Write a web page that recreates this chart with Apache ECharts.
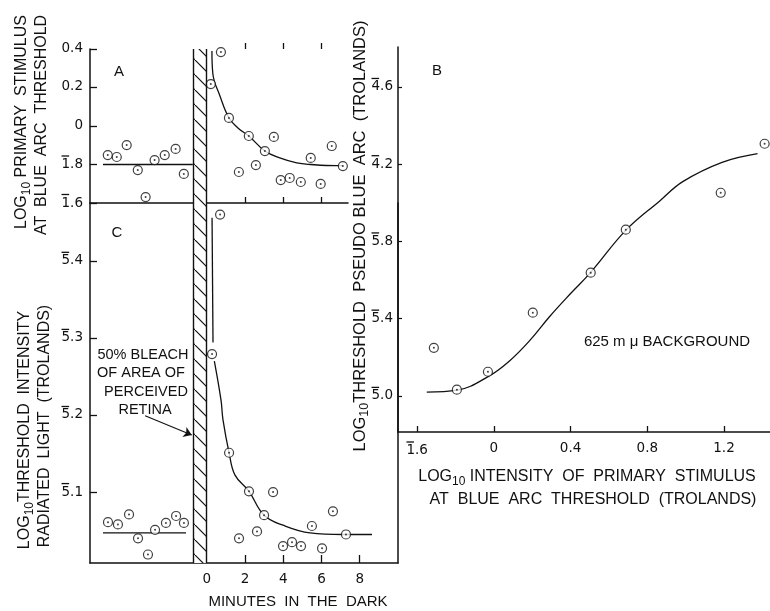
<!DOCTYPE html>
<html>
<head>
<meta charset="utf-8">
<script src="https://cdn.jsdelivr.net/npm/echarts@6/dist/echarts.min.js"></script>
<style>
  html, body { margin: 0; padding: 0; background: #fff; }
  #main { width: 770px; height: 611px; }
</style>
</head>
<body>
<div id="main"></div>
<script>
// panel A - log10 primary stimulus at blue arc threshold, vs minutes in the dark
const aBefore = [[-5.17,-0.151],[-4.70,-0.161],[-4.18,-0.099],[-3.60,-0.229],[-3.19,-0.369],
                 [-2.72,-0.177],[-2.19,-0.151],[-1.62,-0.119],[-1.19,-0.249]];
const aAfter = [[0.22,0.218],[0.75,0.384],[1.17,0.042],[1.69,-0.239],[2.21,-0.052],[2.58,-0.203],
                [3.05,-0.130],[3.52,-0.057],[3.88,-0.281],[4.35,-0.270],[4.93,-0.291],[5.45,-0.166],
                [5.97,-0.301],[6.55,-0.104],[7.13,-0.208]];
const aLevel = [[-5.42,-0.2],[-0.72,-0.2]];
const aCurve = [[0.28,0.39],[0.33,0.27],[0.70,0.156],[1.17,0.042],[1.64,-0.010],[2.21,-0.052],
                [3.05,-0.130],[3.83,-0.166],[4.72,-0.192],[5.45,-0.200],[6.81,-0.206],[7.13,-0.206]];

// panel C - log10 threshold intensity of radiated light
const cBefore = [[-5.16,-4.939],[-4.64,-4.942],[-4.06,-4.929],[-3.59,-4.960],[-3.07,-4.981],
                 [-2.70,-4.949],[-2.13,-4.940],[-1.60,-4.931],[-1.19,-4.940]];
const cAfter = [[0.70,-4.540],[0.28,-4.721],[1.17,-4.849],[1.69,-4.960],[2.21,-4.899],[2.63,-4.951],
                [3.00,-4.930],[3.47,-4.900],[3.99,-4.970],[4.46,-4.965],[4.93,-4.970],[5.50,-4.944],
                [6.03,-4.973],[6.60,-4.925],[7.28,-4.955]];
const cLevel = [[-5.42,-4.953],[-1.08,-4.953]];
const cDrop = [[0.28,-4.544],[0.33,-4.706]];
const cCurve = [[0.40,-4.730],[0.75,-4.781],[0.85,-4.806],[1.17,-4.849],[1.48,-4.878],[2.21,-4.899],
                [3.00,-4.930],[3.99,-4.943],[5.40,-4.953],[7.13,-4.955],[8.64,-4.955]];

// panel B - threshold pseudo blue arc vs primary stimulus, 625 mu background
const bPoints = [[-0.313,-4.751],[-0.193,-4.968],[-0.031,-4.875],[0.203,-4.569],[0.505,-4.362],
                 [0.688,-4.139],[1.183,-3.948],[1.412,-3.694]];
const bCurve = [[-0.35,-4.98],[-0.19,-4.97],[-0.03,-4.90],[0.08,-4.82],[0.19,-4.71],[0.29,-4.59],
                [0.40,-4.47],[0.505,-4.36],[0.69,-4.14],[0.865,-3.99],[0.985,-3.89],[1.19,-3.79],[1.375,-3.745]];

const bleach = [-0.7, 0];
const minuteLabels = [0, 2, 4, 6, 8];
const aTicks = [-0.4, -0.2, 0, 0.2, 0.4];
const cTicks = [-4.9, -4.8, -4.7, -4.6];
const bYTicks = [-5.0, -4.6, -4.2, -3.8, -3.4];
const bXTicks = [-0.4, 0, 0.4, 0.8, 1.2];

const ink = '#111';
const font = 'Liberation Sans';
const numFont = 'DejaVu Sans';
const numSize = 13.5;

// width of a digit and of ".d", so the bar over the characteristic lines up
const mc = document.createElement('canvas').getContext('2d');
mc.font = numSize + 'px "' + numFont + '"';
const digitW = mc.measureText('0').width;
const tailW = mc.measureText('.0').width;

// bar-notation log labels: -0.2 -> 1̄.8, -4.6 -> 5̄.4 (bar drawn as a rich token)
function logLabel(v) {
  v = Math.round(v * 10) / 10;
  if (v >= 0) return '{n|' + (v === 0 ? '0' : v.toFixed(1)) + '}';
  const c = Math.floor(v + 1e-9);
  const m = Math.round((v - c) * 10);
  return '{bar|}{gap|}\n{n|' + Math.abs(c) + '.' + m + '}';
}
const labelRich = {
  n: { fontFamily: numFont, fontSize: numSize, color: ink, lineHeight: 15 },
  bar: { width: digitW - 1, height: 1.3, lineHeight: 2, backgroundColor: ink },
  gap: { width: tailW + 1, height: 1.3, lineHeight: 2 }
};

const hatch = document.createElement('canvas');
hatch.width = 15; hatch.height = 15;
const hc = hatch.getContext('2d');
hc.fillStyle = '#fff'; hc.fillRect(0, 0, 15, 15);
hc.strokeStyle = ink; hc.lineWidth = 1.2;
hc.beginPath(); hc.moveTo(-3, -3); hc.lineTo(18, 18); hc.stroke();

const axisLine = { show: true, onZero: false, lineStyle: { color: ink, width: 1.5 } };
const tickLabel = { color: ink, fontFamily: numFont, fontSize: numSize };

function circles(data, xi) {
  return {
    type: 'scatter', xAxisIndex: xi, yAxisIndex: xi, data: data, symbol: 'circle', symbolSize: 9,
    itemStyle: { color: '#fff', borderColor: ink, borderWidth: 1.2 }, z: 4, silent: true
  };
}
function dots(data, xi) {
  return {
    type: 'scatter', xAxisIndex: xi, yAxisIndex: xi, data: data, symbolSize: 2,
    itemStyle: { color: ink }, z: 5, silent: true
  };
}
function line(data, xi, smooth) {
  return {
    type: 'line', xAxisIndex: xi, yAxisIndex: xi, data: data, showSymbol: false, smooth: smooth,
    lineStyle: { color: ink, width: 1.3 }, z: 3, silent: true
  };
}
function hatchBar(xi) {
  return {
    type: 'line', xAxisIndex: xi, yAxisIndex: xi, data: [], silent: true,
    markArea: { silent: true, itemStyle: { color: { image: hatch, repeat: 'repeat' }, borderWidth: 0 },
      data: [[{ xAxis: bleach[0] }, { xAxis: bleach[1] }]] },
    markLine: { silent: true, symbol: 'none', label: { show: false },
      lineStyle: { color: ink, width: 1.4, type: 'solid' },
      data: [{ xAxis: bleach[0] }, { xAxis: bleach[1] }] }
  };
}

function sub(x, y, rot, parts, size) {
  size = size || 16;
  return {
    type: 'text', x: x, y: y, rotation: rot, silent: true,
    style: {
      text: parts, fill: ink, font: size + 'px "' + font + '"',
      align: 'center', verticalAlign: 'middle', textAlign: 'center', textVerticalAlign: 'middle',
      rich: {
        t: { fontSize: size, fontFamily: font, lineHeight: size + 4, color: ink },
        s: { fontSize: size - 4, fontFamily: font, lineHeight: size + 5, verticalAlign: 'bottom', color: ink }
      }
    }
  };
}

const chart = echarts.init(document.getElementById('main'), null, { renderer: 'canvas' });

chart.setOption({
  backgroundColor: '#fff',
  animation: false,
  grid: [
    { left: 90, top: 49, width: 258, height: 154 },
    { left: 90, top: 203, width: 308, height: 360 },
    { left: 398, top: 47, right: 0, height: 385 }
  ],
  xAxis: [
    { gridIndex: 0, type: 'value', min: -6.1, max: 7.4, axisLine: axisLine, splitLine: { show: false },
      axisLabel: { show: false },
      axisTick: { show: true, inside: true, length: 6, customValues: [2, 4, 6], lineStyle: { color: ink, width: 1.3 } } },
    { gridIndex: 1, type: 'value', min: -6.1, max: 10, axisLine: axisLine, splitLine: { show: false },
      axisLabel: Object.assign({ margin: 9, customValues: minuteLabels }, tickLabel),
      axisTick: { show: true, inside: true, length: 8, customValues: [2, 4, 6, 8], lineStyle: { color: ink, width: 1.3 } } },
    { gridIndex: 2, type: 'value', min: -0.5, max: 1.44, axisLine: axisLine, splitLine: { show: false },
      axisLabel: Object.assign({ margin: 9, customValues: bXTicks, formatter: logLabel, rich: labelRich }, tickLabel),
      axisTick: { show: true, inside: true, length: 6, customValues: bXTicks, lineStyle: { color: ink, width: 1.3 } } },
    // lower half of the crossing ticks on A's baseline
    { gridIndex: 0, type: 'value', min: -6.1, max: 7.4, axisLine: { show: false, onZero: false }, splitLine: { show: false },
      axisLabel: { show: false },
      axisTick: { show: true, inside: false, length: 6, customValues: [2, 4, 6], lineStyle: { color: ink, width: 1.3 } } }
  ],
  yAxis: [
    { gridIndex: 0, type: 'value', min: -0.4, max: 0.4, interval: 0.2, axisLine: axisLine, splitLine: { show: false },
      axisLabel: Object.assign({ margin: 7, formatter: logLabel, rich: labelRich, padding: [0, 0, 2, 0] }, tickLabel),
      axisTick: { show: true, inside: true, length: 7, lineStyle: { color: ink, width: 1.3 } } },
    { gridIndex: 1, type: 'value', min: -4.992, max: -4.525, axisLine: axisLine, splitLine: { show: false },
      axisLabel: Object.assign({ margin: 7, customValues: cTicks, formatter: logLabel, rich: labelRich, padding: [0, 0, 2, 0] }, tickLabel),
      axisTick: { show: true, inside: true, length: 7, customValues: cTicks, lineStyle: { color: ink, width: 1.3 } } },
    { gridIndex: 2, type: 'value', min: -5.187, max: -3.193, axisLine: axisLine, splitLine: { show: false },
      axisLabel: Object.assign({ margin: 5, customValues: bYTicks, formatter: logLabel, rich: labelRich, padding: [0, 0, 2, 0] }, tickLabel),
      axisTick: { show: true, inside: true, length: 4, customValues: bYTicks, lineStyle: { color: ink, width: 1.2 } } },
    // right frame of panel C, continues B's axis down to the bottom
    { gridIndex: 1, type: 'value', position: 'right', min: -4.992, max: -4.525, axisLine: axisLine,
      splitLine: { show: false }, axisLabel: { show: false }, axisTick: { show: false } }
  ],
  series: [
    hatchBar(0),
    hatchBar(1),
    line(aLevel, 0, false), line(aCurve, 0, 0.4),
    circles(aBefore, 0), circles(aAfter, 0), dots(aBefore, 0), dots(aAfter, 0),
    line(cLevel, 1, false), line(cDrop, 1, false), line(cCurve, 1, 0.4),
    circles(cBefore, 1), circles(cAfter, 1), dots(cBefore, 1), dots(cAfter, 1),
    {
      type: 'line', xAxisIndex: 1, yAxisIndex: 1, data: [], silent: true,
      markLine: { silent: true, symbol: ['none', 'arrow'], symbolSize: 8, label: { show: false },
        lineStyle: { color: ink, width: 1.1, type: 'solid' },
        data: [[{ coord: [-3.22, -4.801] }, { coord: [-0.78, -4.826] }]] }
    },
    line(bCurve, 2, 0.4),
    circles(bPoints, 2), dots(bPoints, 2)
  ],
  graphic: [
    { type: 'text', x: 119, y: 72, silent: true, style: { text: 'A', fill: ink, font: '15px "' + font + '"', align: 'center', verticalAlign: 'middle' } },
    { type: 'text', x: 117, y: 233, silent: true, style: { text: 'C', fill: ink, font: '15px "' + font + '"', align: 'center', verticalAlign: 'middle' } },
    { type: 'text', x: 437, y: 71, silent: true, style: { text: 'B', fill: ink, font: '15px "' + font + '"', align: 'center', verticalAlign: 'middle' } },
    sub(22, 122, Math.PI / 2, '{t|LOG}{s|10}{t| PRIMARY  STIMULUS}'),
    sub(42, 125, Math.PI / 2, '{t|AT  BLUE  ARC  THRESHOLD}'),
    sub(25, 430, Math.PI / 2, '{t|LOG}{s|10}{t|THRESHOLD  INTENSITY}'),
    sub(45, 426, Math.PI / 2, '{t|RADIATED  LIGHT  (TROLANDS)}'),
    sub(360, 236, Math.PI / 2, '{t|LOG}{s|10}{t|THRESHOLD  PSEUDO BLUE  ARC  (TROLANDS)}', 16.5),
    sub(587, 477, 0, '{t|LOG}{s|10}{t| INTENSITY  OF  PRIMARY  STIMULUS}'),
    sub(593, 500, 0, '{t|AT  BLUE  ARC  THRESHOLD  (TROLANDS)}'),
    sub(298, 602, 0, '{t|MINUTES  IN  THE  DARK}', 15),
    sub(667, 342, 0, '{t|625 m \u03bc BACKGROUND}', 15),
    sub(143, 355, 0, '{t|50% BLEACH}', 14.5),
    sub(141, 373, 0, '{t|OF AREA OF}', 14.5),
    sub(146, 392, 0, '{t|PERCEIVED}', 14.5),
    sub(145, 410, 0, '{t|RETINA}', 14.5)
  ]
});
</script>
</body>
</html>
